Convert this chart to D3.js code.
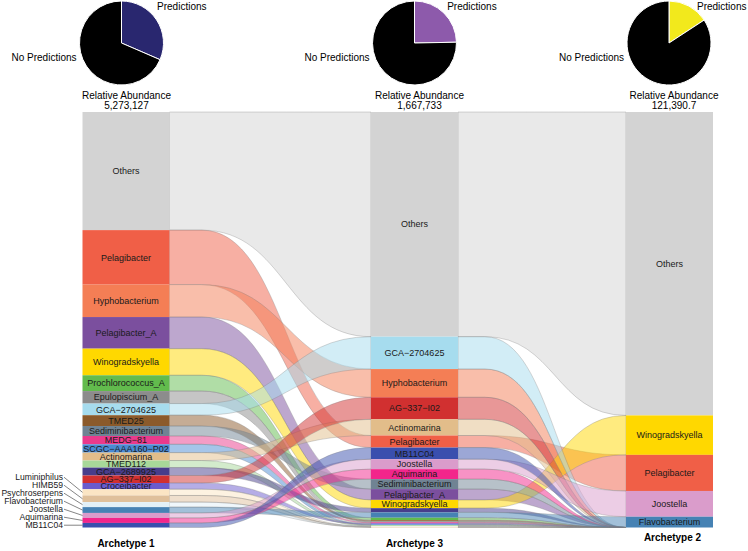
<!DOCTYPE html>
<html>
<head>
<meta charset="utf-8">
<script src="https://cdn.jsdelivr.net/npm/d3@7"></script>
<style>
  body { margin: 0; background: #fff; }
  svg { display: block; font-family: Helvetica, Arial, "Liberation Sans", sans-serif; }
</style>
</head>
<body>
<svg id="chart" width="748" height="551"></svg>
<script>
// Columns in the order they are drawn, left to right
const archetypes = ["Archetype 1", "Archetype 3", "Archetype 2"];
const abundance = [5273127, 1667733, 121390.7];
const predictionShare = [0.315, 0.247, 0.158];
const pieColors = ["#29276f", "#8d5aab", "#f2e91c"];

const taxa = ["Others", "Pelagibacter", "Hyphobacterium", "Pelagibacter_A", "Winogradskyella",
  "Prochlorococcus_A", "Epulopiscium_A", "GCA−2704625", "TMED25", "Sediminibacterium",
  "MEDG−81", "SCGC−AAA160−P02", "Actinomarina", "TMED112", "GCA−2689925", "AG−337−I02",
  "Croceibacter", "Luminiphilus", "HIMB59", "Psychroserpens", "Flavobacterium",
  "Joostella", "Aquimarina", "MB11C04"];
const taxonColors = ["#d3d3d3", "#f05f47", "#f47e55", "#7b4f9e", "#ffd800",
  "#62bb4d", "#8c8c8c", "#a6dcee", "#8b5a2b", "#708393",
  "#ea3a8c", "#4b8bd3", "#e2bd8a", "#a8d899", "#483d8b", "#d13030",
  "#6b5bcd", "#fbe5c4", "#dfc09b", "#e2f0f7", "#4682b4",
  "#da9ccb", "#f2258b", "#3a4fae"];

// relative abundance (%) per taxon, same order as taxa
const arch1Values = [28.4, 13.1, 7.8, 7.6, 6.4, 3.8, 3.0, 2.8, 2.6, 2.4, 2.0, 2.0, 1.9, 1.7,
  1.9, 1.8, 1.5, 1.5, 1.6, 1.2, 1.4, 1.2, 1.2, 1.1];
const arch3Values = [54.1, 2.9, 6.8, 2.6, 2.0, 0.6, 0.25, 7.8, 0.25, 2.4, 0.25, 0.2, 3.9, 0.2,
  1.0, 5.3, 0.25, 0.1, 0.1, 0.15, 1.3, 2.4, 2.4, 2.8];
const arch2Values = [73.1, 8.7, 0, 0, 9.5, 0, 0, 0, 0, 0, 0, 0, 0, 0,
  0, 0, 0, 0, 0, 0, 2.6, 6.2, 0, 0];

// stacking order, top to bottom
const arch1Order = taxa;
const arch3Order = ["Others", "GCA−2704625", "Hyphobacterium", "AG−337−I02", "Actinomarina",
  "Pelagibacter", "MB11C04", "Joostella", "Aquimarina", "Sediminibacterium", "Pelagibacter_A",
  "Winogradskyella", "GCA−2689925", "Flavobacterium", "Prochlorococcus_A", "TMED25",
  "Epulopiscium_A", "MEDG−81", "Croceibacter", "SCGC−AAA160−P02", "TMED112",
  "Psychroserpens", "Luminiphilus", "HIMB59"];
const arch2Top = ["Others", "Winogradskyella", "Pelagibacter", "Joostella", "Flavobacterium"];
const arch2Order = arch2Top.concat(arch3Order.filter(t => !arch2Top.includes(t)));

// small strata on the left that get their label outside with a leader line
const outsideLabels = ["Luminiphilus", "HIMB59", "Psychroserpens", "Flavobacterium", "Joostella", "Aquimarina", "MB11C04"];

const svg = d3.select("#chart");
const yTop = 112, yBottom = 527.5, colWidth = 87;

const xCol = d3.scaleOrdinal().domain(archetypes).range([126, 414.5, 669.5]);
const xPie = d3.scaleOrdinal().domain(archetypes).range([121.5, 414.5, 669]);
const color = d3.scaleOrdinal().domain(taxa).range(taxonColors);

// Build the stacked lodes for every column
const allValues = [arch1Values, arch3Values, arch2Values];
const allOrders = [arch1Order, arch3Order, arch2Order];
const columns = archetypes.map((name, i) => {
    const values = allValues[i];
    const y = d3.scaleLinear().domain([0, d3.sum(values)]).range([yTop, yBottom]);
    const lodes = new Map();
    let acc = 0;
    allOrders[i].forEach(t => {
        const v = values[taxa.indexOf(t)];
        lodes.set(t, {taxon: t, value: v, y0: y(acc), y1: y(acc + v)});
        acc += v;
    });
    return {name, lodes, x0: xCol(name) - colWidth / 2, x1: xCol(name) + colWidth / 2};
});

// Flow shape: short flat start then an S curve into the next column
function flowPath(a, b, x0, x1) {
    const dx = x1 - x0, xs = x0 + dx * 0.16, xm = (xs + x1) / 2;
    return `M${x0},${a.y0}L${xs},${a.y0}C${xm},${a.y0} ${xm},${b.y0} ${x1},${b.y0}` +
           `L${x1},${b.y1}C${xm},${b.y1} ${xm},${a.y1} ${xs},${a.y1}L${x0},${a.y1}Z`;
}

const flows = [];
for (let i = 0; i < columns.length - 1; i++) {
    taxa.forEach(t => flows.push({taxon: t, a: columns[i].lodes.get(t), b: columns[i + 1].lodes.get(t),
                                  x0: columns[i].x1, x1: columns[i + 1].x0}));
}

svg.append("g")
    .selectAll("path")
    .data(flows)
    .join("path")
      .attr("d", d => flowPath(d.a, d.b, d.x0, d.x1))
      .attr("fill", d => color(d.taxon))
      .attr("fill-opacity", 0.5)
      .attr("stroke", "#808080")
      .attr("stroke-opacity", 0.8)
      .attr("stroke-width", 0.4);

// Strata
const strata = columns.flatMap(c => Array.from(c.lodes.values()).map(l => ({...l, col: c})));
svg.append("g")
    .selectAll("rect")
    .data(strata)
    .join("rect")
      .attr("x", d => d.col.x0)
      .attr("width", colWidth)
      .attr("y", d => d.y0)
      .attr("height", d => Math.max(0, d.y1 - d.y0))
      .attr("fill", d => color(d.taxon));

// Labels inside the strata
svg.append("g")
    .attr("font-size", 9)
    .attr("fill", "#1a1a1a")
    .attr("text-anchor", "middle")
    .selectAll("text")
    .data(strata.filter(d => d.y1 - d.y0 >= 6 && !(d.col === columns[0] && outsideLabels.includes(d.taxon))))
    .join("text")
      .attr("x", d => (d.col.x0 + d.col.x1) / 2)
      .attr("y", d => (d.y0 + d.y1) / 2)
      .attr("dy", "0.35em")
      .text(d => d.taxon);

// Outside labels with leader lines (left column)
const lastLode = columns[0].lodes.get(outsideLabels[outsideLabels.length - 1]);
const outside = outsideLabels.map((t, i) => {
    const l = columns[0].lodes.get(t);
    return {taxon: t, ly: (lastLode.y0 + lastLode.y1) / 2 - (outsideLabels.length - 1 - i) * 8, sy: (l.y0 + l.y1) / 2};
});
const lead = svg.append("g");
lead.selectAll("line")
    .data(outside)
    .join("line")
      .attr("x1", 64).attr("y1", d => d.ly)
      .attr("x2", columns[0].x0).attr("y2", d => d.sy)
      .attr("stroke", "#333").attr("stroke-width", 0.6);
lead.selectAll("text")
    .data(outside)
    .join("text")
      .attr("x", 63).attr("y", d => d.ly)
      .attr("dy", "0.35em")
      .attr("text-anchor", "end")
      .attr("font-size", 8.6)
      .attr("fill", "#1a1a1a")
      .text(d => d.taxon);

// Column titles
svg.append("g")
    .attr("font-size", 10)
    .attr("font-weight", "bold")
    .attr("text-anchor", "middle")
    .selectAll("text")
    .data(archetypes)
    .join("text")
      .attr("x", d => xCol(d) + (d === "Archetype 2" ? 3 : 0))
      .attr("y", d => d === "Archetype 2" ? 541 : 547)
      .text(d => d);

// Pies on top
const pieR = 42, pieY = 43;
const pie = d3.pie().sort(null);
const arc = d3.arc().innerRadius(0).outerRadius(pieR);
const fmt = d3.format(",");

archetypes.forEach((name, i) => {
    const cx = xPie(name);
    const g = svg.append("g").attr("transform", `translate(${cx},${pieY})`);
    const slices = pie([predictionShare[i], 1 - predictionShare[i]]);
    g.selectAll("path")
        .data(slices)
        .join("path")
          .attr("d", arc)
          .attr("fill", (d, j) => j === 0 ? pieColors[i] : "#000")
          .attr("stroke", "#fff")
          .attr("stroke-width", 1);

    const mid = (slices[0].startAngle + slices[0].endAngle) / 2;
    g.append("text")
        .attr("x", pieR * Math.sin(mid) * 0.5 + 18)
        .attr("y", -pieY + 10)
        .attr("font-size", 10)
        .text("Predictions");
    g.append("text")
        .attr("x", -45)
        .attr("y", 18)
        .attr("text-anchor", "end")
        .attr("font-size", 10)
        .text("No Predictions");
    g.append("text")
        .attr("x", 5)
        .attr("y", 56)
        .attr("text-anchor", "middle")
        .attr("font-size", 10)
        .text("Relative Abundance");
    g.append("text")
        .attr("x", 5)
        .attr("y", 65.5)
        .attr("text-anchor", "middle")
        .attr("font-size", 10)
        .text(fmt(abundance[i]));
});
</script>
</body>
</html>
